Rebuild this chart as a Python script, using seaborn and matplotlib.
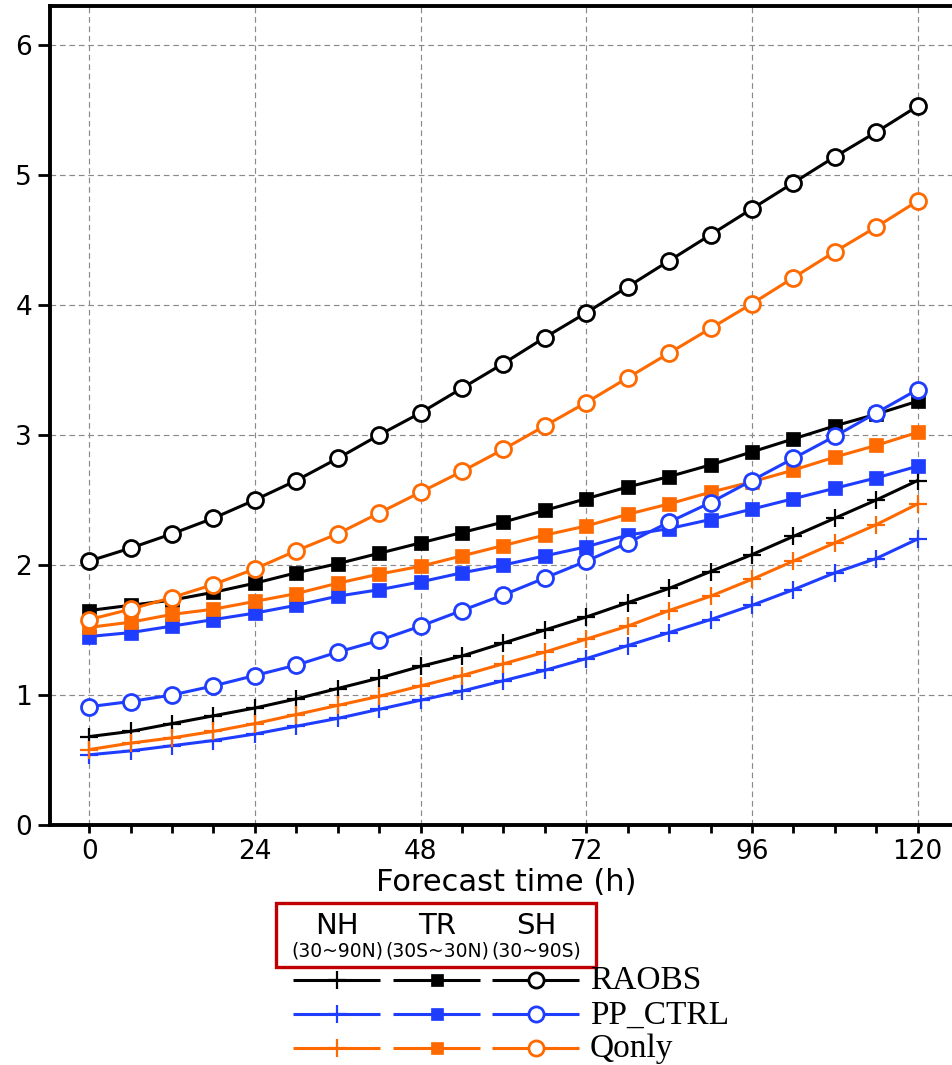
import numpy as np
import matplotlib
matplotlib.use("Agg")
import matplotlib.pyplot as plt
from matplotlib.patches import Rectangle
import seaborn as sns

sns.set_style("ticks")
plt.rcParams['font.family'] = ['DejaVu Sans']
plt.rcParams['text.color'] = 'black'
plt.rcParams['axes.labelcolor'] = 'black'
plt.rcParams['xtick.color'] = 'black'
plt.rcParams['ytick.color'] = 'black'

# forecast lead times (h)
hours = [0, 6, 12, 18, 24, 30, 36, 42, 48, 54, 60, 66, 72, 78, 84, 90, 96, 102, 108, 114, 120]

# NH (30~90N)
nh_raobs = [0.68, 0.72, 0.78, 0.84, 0.90, 0.97, 1.05, 1.13, 1.22, 1.30, 1.40,
            1.50, 1.60, 1.71, 1.82, 1.95, 2.08, 2.22, 2.36, 2.50, 2.65]
nh_ppctrl = [0.54, 0.57, 0.61, 0.65, 0.70, 0.76, 0.82, 0.89, 0.96, 1.03, 1.11,
             1.19, 1.28, 1.38, 1.48, 1.58, 1.69, 1.81, 1.94, 2.05, 2.20]
nh_qonly = [0.58, 0.63, 0.67, 0.72, 0.78, 0.85, 0.92, 0.99, 1.07, 1.15, 1.24,
            1.33, 1.43, 1.53, 1.65, 1.76, 1.89, 2.03, 2.17, 2.31, 2.47]
# TR (30S~30N)
tr_raobs = [1.65, 1.69, 1.73, 1.79, 1.86, 1.94, 2.01, 2.09, 2.17, 2.25, 2.33,
            2.42, 2.51, 2.60, 2.68, 2.77, 2.87, 2.97, 3.07, 3.16, 3.26]
tr_ppctrl = [1.45, 1.48, 1.53, 1.58, 1.63, 1.69, 1.76, 1.81, 1.87, 1.94, 2.00,
             2.07, 2.14, 2.23, 2.28, 2.35, 2.43, 2.51, 2.59, 2.67, 2.76]
tr_qonly = [1.52, 1.56, 1.62, 1.66, 1.72, 1.78, 1.86, 1.93, 1.99, 2.07, 2.15,
            2.23, 2.30, 2.39, 2.47, 2.56, 2.64, 2.73, 2.83, 2.92, 3.02]
# SH (30~90S)
sh_raobs = [2.03, 2.13, 2.24, 2.36, 2.50, 2.65, 2.82, 3.00, 3.17, 3.36, 3.55,
            3.75, 3.94, 4.14, 4.34, 4.54, 4.74, 4.94, 5.14, 5.33, 5.53]
sh_ppctrl = [0.91, 0.95, 1.00, 1.07, 1.15, 1.23, 1.33, 1.42, 1.53, 1.65, 1.77,
             1.90, 2.03, 2.17, 2.33, 2.48, 2.65, 2.82, 2.99, 3.17, 3.35]
sh_qonly = [1.58, 1.66, 1.75, 1.85, 1.97, 2.11, 2.24, 2.40, 2.56, 2.72, 2.89,
            3.07, 3.25, 3.44, 3.63, 3.82, 4.01, 4.21, 4.41, 4.60, 4.80]

experiments = ['RAOBS', 'PP_CTRL', 'Qonly']
regions = ['NH', 'TR', 'SH']
region_sub = ['(30~90N)', '(30S~30N)', '(30~90S)']
colors = {'RAOBS': 'black', 'PP_CTRL': '#1f3dff', 'Qonly': '#ff6a00'}

series = {
    'NH': {'RAOBS': nh_raobs, 'PP_CTRL': nh_ppctrl, 'Qonly': nh_qonly},
    'TR': {'RAOBS': tr_raobs, 'PP_CTRL': tr_ppctrl, 'Qonly': tr_qonly},
    'SH': {'RAOBS': sh_raobs, 'PP_CTRL': sh_ppctrl, 'Qonly': sh_qonly},
}


def marker_style(region, col, legend=False):
    k = 0.95 if legend else 1.0
    if region == 'NH':
        return dict(marker='+', markersize=13 * k, markeredgewidth=1.6,
                    markeredgecolor=col, markerfacecolor=col)
    if region == 'TR':
        return dict(marker='s', markersize=9.5 * k, markeredgewidth=0.5,
                    markeredgecolor=col, markerfacecolor=col)
    return dict(marker='o', markersize=11.5 * k, markeredgewidth=2.0,
                markeredgecolor=col, markerfacecolor='white')


W, H = 953, 1065
fig = plt.figure(figsize=(W / 100, H / 100), dpi=100)
ax = fig.add_axes([50 / W, 1 - 825 / H, (W - 50) / W + 0.01, (825 - 6) / H])

for reg in regions:
    for exp in experiments:
        c = colors[exp]
        sns.lineplot(x=hours, y=series[reg][exp], ax=ax, color=c, linewidth=2.2,
                     legend=False, zorder=3, **marker_style(reg, c))

ax.set_xlim(-5.67, 126.5)
ax.set_ylim(0, 6.3)
ax.set_xticks(np.arange(0, 121, 24))
ax.set_xticks(np.arange(0, 121, 6), minor=True)
ax.set_yticks(np.arange(0, 7, 1))
ax.tick_params(axis='both', which='major', labelsize=19, width=2, direction='out')
ax.tick_params(axis='y', length=9, pad=4)
ax.tick_params(axis='x', which='both', length=6, width=2, pad=4)
ax.grid(True, which='major', linestyle=(0, (4.8, 3.2)), color='#8a8a8a', linewidth=0.85)
ax.set_axisbelow(True)
for side in ['left', 'bottom', 'top']:
    ax.spines[side].set_linewidth(2.8)
    ax.spines[side].set_color('black')
ax.spines['right'].set_visible(False)
ax.set_xlabel('Forecast time (h)', fontsize=22, labelpad=2)

# legend block drawn in figure pixel coordinates
lg = fig.add_axes([0, 0, 1, 1], facecolor='none')
lg.set_xlim(0, W)
lg.set_ylim(H, 0)
lg.axis('off')

lg.add_patch(Rectangle((276, 903), 320, 64, fill=False, edgecolor='#c00000', linewidth=2.4))
col_x = [337, 437, 536]
row_y = [980, 1014, 1048]
for j, reg in enumerate(regions):
    lg.text(col_x[j], 926, reg, fontsize=21, ha='center', va='center')
    lg.text(col_x[j], 951, region_sub[j], fontsize=13.5, ha='center', va='center')
    for i, exp in enumerate(experiments):
        c = colors[exp]
        lg.plot([col_x[j] - 44, col_x[j] + 43], [row_y[i], row_y[i]], color=c,
                linewidth=2.2, solid_capstyle='butt')
        lg.plot([col_x[j]], [row_y[i]], linestyle='none', **marker_style(reg, c, legend=True))
for i, exp in enumerate(experiments):
    lg.text(590, row_y[i] + 1, exp, fontsize=24, ha='left', va='center',
            family=['Liberation Serif', 'DejaVu Serif'])

fig.savefig('out.png', dpi=100)
